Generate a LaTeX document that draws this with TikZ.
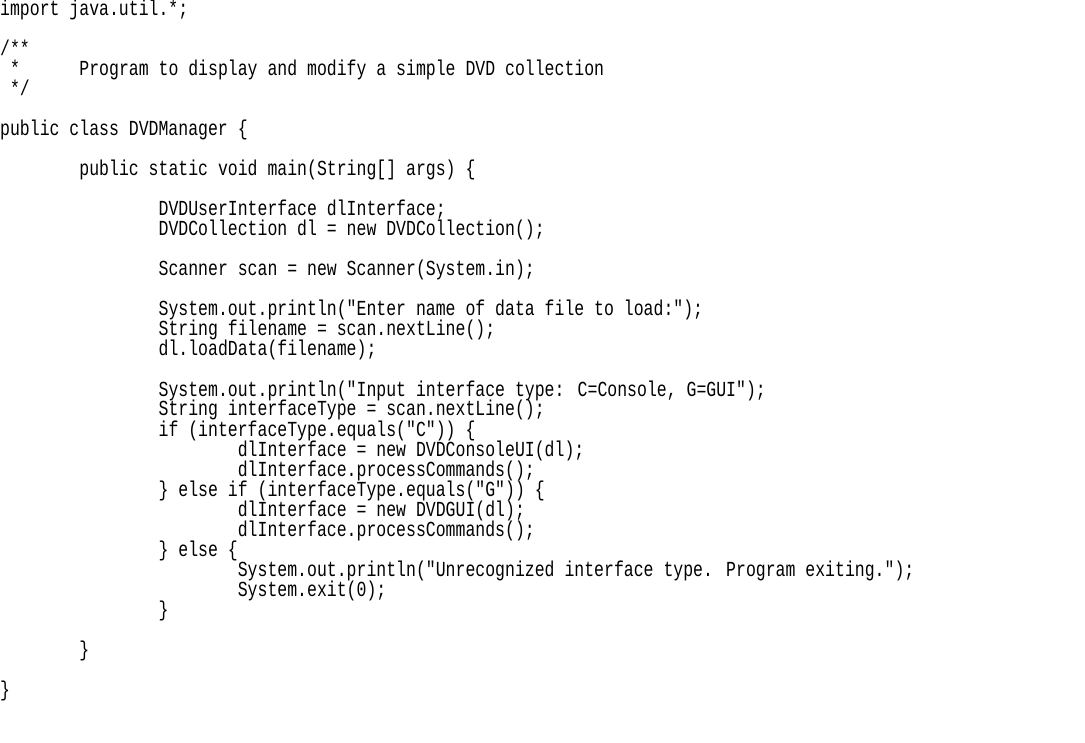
\documentclass[tikz,border=0pt]{standalone}
\usepackage{fontspec}
\newfontfamily\code{Liberation Mono}
\begin{document}
\begin{tikzpicture}[x=1pt,y=-1pt,
  ln/.style={anchor=base west,inner sep=0,font=\code\fontsize{16.5}{20}\selectfont,yscale=1.3,transform shape}]
\useasboundingbox (0,0) rectangle (1085,743);
\def\cw{9.9}
\def\L#1#2#3#4{\node[ln] (#1) at (#2*\cw,{16+20*#3}) {#4};}
\L{l0}{0}{0}{import java.util.*;}
\L{l2}{0}{2}{/**}
\L{l3a}{1}{3}{*}
\L{l3}{8}{3}{Program to display and modify a simple DVD collection}
\L{l4}{1}{4}{*/}
\L{l6}{0}{6}{public class DVDManager \{}
\L{l8}{8}{8}{public static void main(String[] args) \{}
\L{l10}{16}{10}{DVDUserInterface dlInterface;}
\L{l11}{16}{11}{DVDCollection dl = new DVDCollection();}
\L{l13}{16}{13}{Scanner scan = new Scanner(System.in);}
\L{l15}{16}{15}{System.out.println("Enter name of data file to load:");}
\L{l16}{16}{16}{String filename = scan.nextLine();}
\L{l17}{16}{17}{dl.loadData(filename);}
\L{l19}{16}{19}{System.out.println("Input interface type: C=Console, G=GUI");}
\L{l20}{16}{20}{String interfaceType = scan.nextLine();}
\L{l21}{16}{21}{if (interfaceType.equals("C")) \{}
\L{l22}{24}{22}{dlInterface = new DVDConsoleUI(dl);}
\L{l23}{24}{23}{dlInterface.processCommands();}
\L{l24}{16}{24}{\} else if (interfaceType.equals("G")) \{}
\L{l25}{24}{25}{dlInterface = new DVDGUI(dl);}
\L{l26}{24}{26}{dlInterface.processCommands();}
\L{l27}{16}{27}{\} else \{}
\L{l28}{24}{28}{System.out.println("Unrecognized interface type. Program exiting.");}
\L{l29}{24}{29}{System.exit(0);}
\L{l30}{16}{30}{\}}
\L{l32}{8}{32}{\}}
\L{l34}{0}{34}{\}}
\end{tikzpicture}
\end{document}
